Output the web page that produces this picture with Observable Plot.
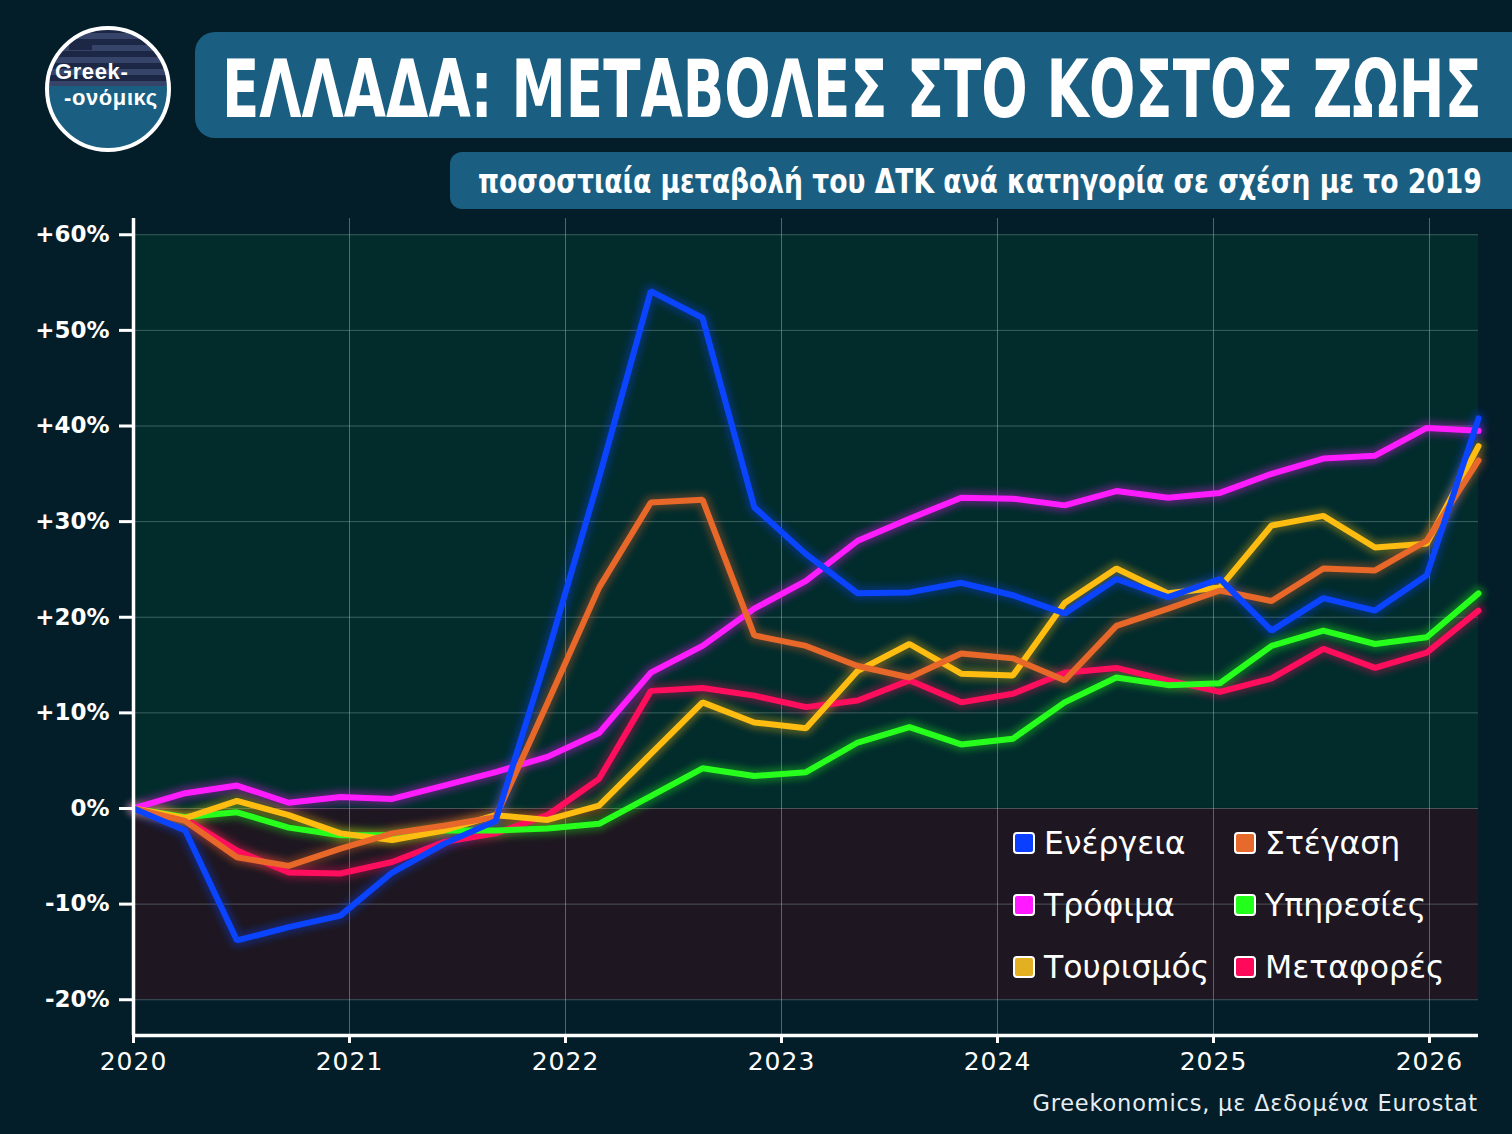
<!DOCTYPE html>
<html>
<head>
<meta charset="utf-8">
<script src="https://cdn.jsdelivr.net/npm/d3@7"></script>
<script src="https://cdn.jsdelivr.net/npm/@observablehq/plot@0.6"></script>
<style>
  html, body { margin: 0; padding: 0; background: #031e29; }
  #page { position: relative; width: 1512px; height: 1134px; overflow: hidden; background: #031e29; font-family: "DejaVu Sans", sans-serif; }
  #header { position: absolute; left: 0; top: 0; }
  #chart { position: absolute; left: 0; top: 212px; }
  #chart svg [aria-label="y-axis tick label"] text, #chart svg g[aria-label="y-axis tick label"] { font-family: "DejaVu Sans", sans-serif; font-weight: bold; font-size: 23px; }
  #chart svg [aria-label="x-axis tick label"] text, #chart svg g[aria-label="x-axis tick label"] { font-family: "DejaVu Sans", sans-serif; font-size: 25px; letter-spacing: 1px; }
  .legend { position: absolute; left: 1013px; top: 826px; width: 470px; }
  .item { position: absolute; height: 34px; display: flex; align-items: center; color: #ffffff; font-size: 31.5px; white-space: nowrap; }
  .sw { width: 18px; height: 18px; border: 2px solid #ffffff; border-radius: 4px; margin-right: 9px; box-sizing: content-box; }
  #caption { position: absolute; right: 34px; top: 1090px; color: #e6edf2; font-size: 22.5px; letter-spacing: 0.8px; }
</style>
</head>
<body>
<div id="page">
  <svg id="header" width="1512" height="212" viewBox="0 0 1512 212">
    <defs>
      <clipPath id="logoClip"><circle cx="108" cy="89" r="61"/></clipPath>
    </defs>
    <g clip-path="url(#logoClip)">
      <rect x="40" y="20" width="140" height="140" fill="#1a5f82"/>
      <rect x="40" y="20" width="140" height="66" fill="#1b2744"/>
      <g fill="#36446a">
        <rect x="40" y="33" width="140" height="6"/>
        <rect x="40" y="45" width="140" height="6"/>
        <rect x="40" y="57" width="140" height="6"/>
        <rect x="40" y="69" width="140" height="6"/>
        <rect x="40" y="81" width="140" height="5"/>
        <rect x="40" y="20" width="52" height="30" fill="#1b2744"/>
        <rect x="40" y="33" width="52" height="6"/>
        <rect x="63" y="20" width="6" height="30"/>
      </g>
    </g>
    <circle cx="108" cy="89" r="61" fill="none" stroke="#ffffff" stroke-width="4"/>
    <text x="55" y="79" fill="#ffffff" font-family="Liberation Sans, Arial, sans-serif" font-weight="bold" font-size="22" letter-spacing="0.6">Greek-</text>
    <text x="64" y="105" fill="#ffffff" font-family="Liberation Sans, Arial, sans-serif" font-weight="bold" font-size="22" letter-spacing="0.6">-ονόμικς</text>

    <rect x="195" y="32" width="1360" height="106" rx="20" ry="20" fill="#1a5f82"/>
    <text id="ttl" data-x="222" data-y="117" data-w="1260" fill="#ffffff" font-family="DejaVu Sans Condensed, Liberation Sans Narrow, sans-serif" font-weight="bold" font-size="80">ΕΛΛΑΔΑ: ΜΕΤΑΒΟΛΕΣ ΣΤΟ ΚΟΣΤΟΣ ΖΩΗΣ</text>

    <rect x="450" y="152" width="1100" height="57" rx="12" ry="12" fill="#1a5f82"/>
    <text id="sub" data-x="478" data-y="193" data-w="1004" fill="#ffffff" font-family="DejaVu Sans Condensed, Liberation Sans Narrow, sans-serif" font-weight="bold" font-size="34">ποσοστιαία μεταβολή του ΔΤΚ ανά κατηγορία σε σχέση με το 2019</text>
  </svg>
  <div id="chart"></div>
  <div class="legend" id="legend"></div>
  <div id="caption">Greekonomics, με Δεδομένα Eurostat</div>
</div>
<script>
// ---- data (percent change of HICP vs 2019, by category) ----
const categories = ["Μεταφορές", "Υπηρεσίες", "Τρόφιμα", "Τουρισμός", "Στέγαση", "Ενέργεια"];
const energy    = [0, -2.3, -13.8, -12.4, -11.2, -6.7, -3.7, -1.3, 16.1, 34.6, 54.1, 51.3, 31.5, 26.6, 22.5, 22.6, 23.6, 22.3, 20.4, 24.0, 22.1, 24.0, 18.6, 22.0, 20.7, 24.4, 40.8];
const housing   = [0, -1.3, -5.1, -6.0, -4.2, -2.6, -1.8, -0.9, 11.0, 23.1, 32.0, 32.3, 18.1, 17.0, 14.9, 13.7, 16.2, 15.7, 13.4, 19.1, 20.9, 22.8, 21.7, 25.1, 24.9, 28.0, 36.4];
const food      = [0, 1.6, 2.4, 0.6, 1.2, 1.0, 2.4, 3.8, 5.4, 7.9, 14.2, 17.0, 20.9, 23.8, 28.0, 30.3, 32.5, 32.4, 31.7, 33.2, 32.5, 33.0, 35.0, 36.6, 36.9, 39.8, 39.5];
const services  = [0, -0.9, -0.4, -2.0, -2.8, -2.8, -2.3, -2.3, -2.1, -1.6, 1.3, 4.2, 3.4, 3.8, 6.9, 8.5, 6.7, 7.3, 11.1, 13.7, 12.9, 13.1, 17.0, 18.6, 17.2, 17.9, 22.5];
const tourism   = [0, -1.0, 0.8, -0.7, -2.6, -3.3, -2.3, -0.7, -1.2, 0.3, 5.7, 11.1, 9.0, 8.4, 14.4, 17.2, 14.1, 13.9, 21.5, 25.1, 22.5, 23.1, 29.6, 30.6, 27.3, 27.7, 37.9];
const transport = [0, -1.1, -4.4, -6.7, -6.8, -5.6, -3.5, -2.6, -0.7, 3.1, 12.3, 12.6, 11.8, 10.6, 11.3, 13.4, 11.1, 12.0, 14.2, 14.7, 13.4, 12.2, 13.6, 16.7, 14.7, 16.3, 20.7];
const yearTicks = [2020, 2021, 2022, 2023, 2024, 2025, 2026];
const yTicks = [-20, -10, 0, 10, 20, 30, 40, 50, 60];

const lineColors = {
  "Ενέργεια": "#0b44ff", "Στέγαση": "#e8682a", "Τρόφιμα": "#ff1cff",
  "Υπηρεσίες": "#27ff1c", "Τουρισμός": "#ffbd12", "Μεταφορές": "#ff0e5e"
};
const swatchColors = {
  "Ενέργεια": "#0b3fff", "Στέγαση": "#e8692c", "Τρόφιμα": "#ff1aff",
  "Υπηρεσίες": "#22ff1a", "Τουρισμός": "#e3b021", "Μεταφορές": "#ff0a5a"
};
const legendOrder = ["Ενέργεια", "Στέγαση", "Τρόφιμα", "Υπηρεσίες", "Τουρισμός", "Μεταφορές"];

// time positions: 27 evenly spaced observations from start of 2020 to the last period
const X0 = 2020, XEND = 2026.227;
const N = energy.length;
const times = d3.range(N).map(i => X0 + i * (XEND - X0) / (N - 1));

const seriesValues = {
  "Μεταφορές": transport, "Υπηρεσίες": services, "Τρόφιμα": food,
  "Τουρισμός": tourism, "Στέγαση": housing, "Ενέργεια": energy
};
const rows = categories.flatMap(c => seriesValues[c].map((v, i) => ({ s: c, t: times[i], v })));

const Y0 = -23.74, Y1 = 61.70;

const chart = Plot.plot({
  width: 1512,
  height: 922,
  marginTop: 6,
  marginBottom: 99,
  marginLeft: 133,
  marginRight: 34,
  style: { background: "transparent", color: "#ffffff", overflow: "visible" },
  x: { domain: [X0, XEND], axis: null },
  y: { domain: [Y0, Y1], axis: null },
  color: { domain: categories, range: categories.map(c => lineColors[c]) },
  marks: [
    Plot.rect([{ a: 0, b: 60 }], { x1: () => X0, x2: () => XEND, y1: "a", y2: "b", fill: "#022c2c" }),
    Plot.rect([{ a: -20, b: 0 }], { x1: () => X0, x2: () => XEND, y1: "a", y2: "b", fill: "#1e1721" }),
    Plot.ruleY(yTicks, { x1: X0, x2: XEND, stroke: "#a8c4c4", strokeOpacity: 0.35, strokeWidth: 1 }),
    Plot.ruleX(yearTicks.slice(1), { y1: Y0, y2: Y1, stroke: "#a8c4c4", strokeOpacity: 0.45, strokeWidth: 1 }),
    Plot.line(rows, { x: "t", y: "v", z: "s", stroke: "s", strokeWidth: 14, strokeOpacity: 0.3, imageFilter: "blur(3px)" }),
    Plot.line(rows, { x: "t", y: "v", z: "s", stroke: "s", strokeWidth: 6, strokeLinejoin: "miter" }),
    Plot.ruleX([X0], { y1: Y0, y2: Y1, stroke: "#ffffff", strokeWidth: 3.5 }),
    Plot.ruleY([Y0], { x1: X0, x2: XEND, stroke: "#ffffff", strokeWidth: 3.5 }),
    Plot.axisY(yTicks, {
      anchor: "left", tickSize: 14, tickPadding: 10, stroke: "#ffffff", strokeWidth: 3, fill: "#ffffff",
      tickFormat: d => (d > 0 ? `+${d}%` : `${d}%`), fontSize: 23, fontWeight: "bold", label: null
    }),
    Plot.axisX(yearTicks, {
      anchor: "bottom", tickSize: 8, tickPadding: 9, stroke: "#ffffff", strokeWidth: 3, fill: "#ffffff",
      tickFormat: d => String(d), fontSize: 25, label: null
    })
  ]
});
document.getElementById("chart").appendChild(chart);

// fit the condensed header texts to their measured widths
for (const id of ["ttl", "sub"]) {
  const t = document.getElementById(id);
  const x = +t.dataset.x, y = +t.dataset.y, w = +t.dataset.w;
  const natural = t.getComputedTextLength();
  const sx = natural > 0 ? w / natural : 1;
  t.setAttribute("transform", `translate(${x},${y}) scale(${sx},1)`);
}

// legend (HTML overlay inside the plot's lower-right panel)
const legend = document.getElementById("legend");
legendOrder.forEach((c, i) => {
  const col = i % 2, row = Math.floor(i / 2);
  const el = document.createElement("div");
  el.className = "item";
  el.style.left = (col * 221) + "px";
  el.style.top = (row * 62) + "px";
  const sw = document.createElement("div");
  sw.className = "sw";
  sw.style.background = swatchColors[c];
  const tx = document.createElement("span");
  tx.textContent = c;
  el.appendChild(sw);
  el.appendChild(tx);
  legend.appendChild(el);
});
</script>
</body>
</html>
